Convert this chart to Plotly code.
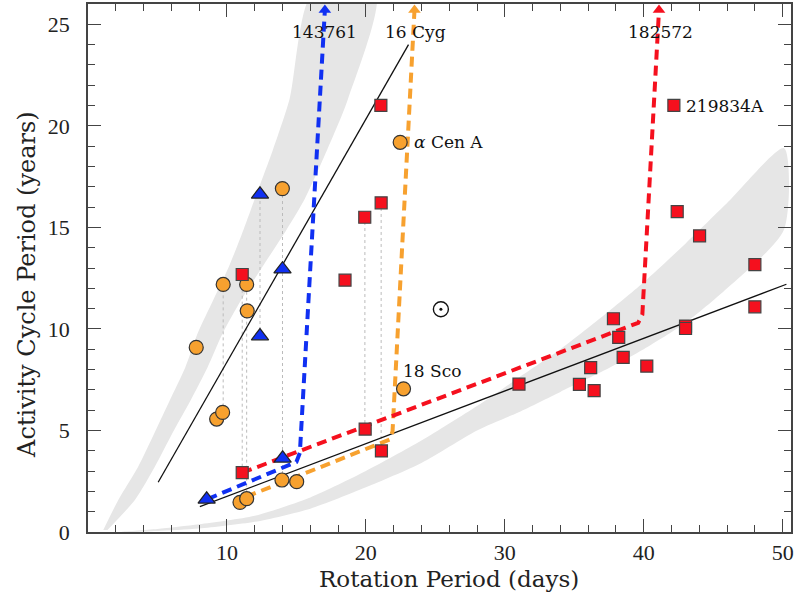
import plotly.graph_objects as go

# ---------------- data ----------------
circ_x = [7.79, 9.73, 11.42, 11.46, 13.99, 9.26, 9.69, 10.94, 11.42, 13.96, 15.02, 22.71, 22.47]
circ_y = [9.09, 12.19, 12.19, 10.89, 16.91, 5.56, 5.89, 1.46, 1.64, 2.56, 2.48, 7.05, 19.19]

tri_x = [14.0, 12.38, 14.01, 8.54, 12.38]
tri_y = [12.94, 9.65, 3.63, 1.61, 16.63]

sq_x = [11.10, 18.50, 11.10, 19.95, 21.12, 21.08, 21.10, 19.92, 42.17, 42.41, 44.02, 48.0, 48.0,
        43.01, 43.01, 37.82, 38.20, 38.52, 40.22, 36.18, 35.37, 36.43, 31.02]
sq_y = [12.68, 12.40, 2.92, 5.07, 3.99, 21.01, 16.21, 15.50, 21.01, 15.78, 14.58, 13.17, 11.09,
        10.14, 10.02, 10.50, 9.58, 8.60, 8.17, 8.09, 7.27, 6.96, 7.28]

sun_x, sun_y = 25.40, 10.97

# pairs of cycles of the same star (dotted connectors)
pair_x = [9.73, 11.10, 11.42, 12.38, 14.0, 19.93, 21.10]
pair_ylo = [5.89, 2.92, 1.64, 9.65, 2.56, 5.07, 3.99]
pair_yhi = [12.19, 12.68, 12.19, 16.63, 16.91, 15.50, 16.21]

# sequences (black lines)
inact_x = [5.05, 23.07]
inact_y = [2.45, 24.0]
act_x = [8.05, 50.27]
act_y = [1.25, 12.2]

# evolutionary tracks (dashed)
blue_x = [8.6, 15.0, 15.25, 17.05]
blue_y = [1.62, 3.45, 3.9, 25.7]
orange_x = [11.4, 21.7, 21.92, 23.5]
orange_y = [1.74, 4.55, 4.95, 25.7]
red_x = [11.1, 39.6, 39.9, 41.1]
red_y = [2.92, 10.3, 10.7, 25.7]

# grey bands
up_left_x = [1.1, 2.2, 3.6, 4.8, 5.9, 7.0, 7.9, 9.0, 10.1, 11.2, 12.0, 13.3, 14.5, 16.15]
up_left_y = [0.1, 1.6, 3.2, 4.9, 6.5, 8.1, 9.8, 11.4, 13.0, 14.9, 16.4, 18.8, 21.3, 26.5]
up_right_x = [20.7, 18.7, 17.2, 15.6, 14.3, 12.5, 11.0, 9.7, 8.6, 7.4, 6.1, 4.8, 3.4, 1.4]
up_right_y = [26.5, 21.3, 18.8, 16.4, 14.9, 13.0, 11.4, 9.8, 8.1, 6.5, 4.9, 3.2, 1.6, 0.1]

lo_top_x = [2.3, 5, 8, 12, 16, 20, 24, 28, 31, 34, 37, 40, 43, 46, 50.1]
lo_top_y = [0.0, 0.15, 0.38, 0.8, 1.7, 3.0, 4.5, 6.2, 7.6, 9.0, 10.6, 12.3, 14.2, 16.2, 18.9]
lo_bot_x = [50.1, 46, 43, 40, 37, 34, 31, 28, 24, 20, 16, 12, 8, 5, 2.3]
lo_bot_y = [14.9, 12.0, 10.3, 9.0, 7.9, 6.9, 5.9, 5.0, 3.4, 2.2, 1.15, 0.5, 0.17, 0.05, 0.0]

labels = ["143761", "16 Cyg", "182572", "219834A", "<i>α</i> Cen A", "18 Sco"]
label_x = [17.0, 23.6, 41.2, 42.9, 23.35, 22.5]
label_y = [24.6, 24.6, 24.6, 20.96, 19.2, 7.92]
label_anchor = ["center", "center", "center", "left", "left", "left"]

ORANGE = "#F7A12F"
BLUE = "#1030F2"
RED = "#F5101E"
GREY = "#E6E6E6"

fig = go.Figure()

fig.add_trace(go.Scatter(x=up_left_x + up_right_x, y=up_left_y + up_right_y, mode="lines",
                         fill="toself", fillcolor=GREY, line=dict(width=0, shape="spline", smoothing=0.7),
                         hoverinfo="skip"))
fig.add_trace(go.Scatter(x=lo_top_x + lo_bot_x, y=lo_top_y + lo_bot_y, mode="lines",
                         fill="toself", fillcolor=GREY, line=dict(width=0, shape="spline", smoothing=0.7),
                         hoverinfo="skip"))

for i in range(len(pair_x)):
    fig.add_trace(go.Scatter(x=[pair_x[i], pair_x[i]], y=[pair_ylo[i], pair_yhi[i]], mode="lines",
                             line=dict(color="#BBBBBB", width=1, dash="dot")))

fig.add_trace(go.Scatter(x=inact_x, y=inact_y, mode="lines", line=dict(color="#111", width=1.3)))
fig.add_trace(go.Scatter(x=act_x, y=act_y, mode="lines", line=dict(color="#111", width=1.3)))

for xs, ys, c in [(blue_x, blue_y, BLUE), (orange_x, orange_y, ORANGE), (red_x, red_y, RED)]:
    fig.add_trace(go.Scatter(x=xs, y=ys, mode="lines",
                             line=dict(color=c, width=4, dash="10px,6px")))
    fig.add_trace(go.Scatter(x=[xs[-1]], y=[ys[-1]], mode="markers", cliponaxis=False,
                             marker=dict(symbol="triangle-up", size=11, color=c, line=dict(width=0))))

fig.add_trace(go.Scatter(x=circ_x, y=circ_y, mode="markers",
                         marker=dict(symbol="circle", size=14, color=ORANGE,
                                     line=dict(color="#333", width=1.2))))
fig.add_trace(go.Scatter(x=tri_x, y=tri_y, mode="markers",
                         marker=dict(symbol="triangle-up", size=15, color=BLUE,
                                     line=dict(color="#222", width=1.2))))
fig.add_trace(go.Scatter(x=sq_x, y=sq_y, mode="markers",
                         marker=dict(symbol="square", size=12, color=RED,
                                     line=dict(color="#444", width=1.2))))
fig.add_trace(go.Scatter(x=[sun_x], y=[sun_y], mode="markers",
                         marker=dict(symbol="circle-open", size=15, color="#111",
                                     line=dict(width=1.4))))
fig.add_trace(go.Scatter(x=[sun_x], y=[sun_y], mode="markers",
                         marker=dict(symbol="circle", size=3, color="#111")))

for t, lx, ly, a in zip(labels, label_x, label_y, label_anchor):
    fig.add_annotation(x=lx, y=ly, text=t, showarrow=False, xanchor=a, yanchor="middle",
                       font=dict(family="DejaVu Serif", size=17, color="#111"))

# axis titles
fig.add_annotation(xref="paper", yref="paper", x=0.5135, y=-0.0890, text="Rotation Period (days)",
                   showarrow=False, xanchor="center", yanchor="middle",
                   font=dict(family="DejaVu Serif", size=23, color="#222"))
fig.add_annotation(xref="paper", yref="paper", x=-0.0868, y=0.468, text="Activity Cycle Period (years)",
                   showarrow=False, xanchor="center", yanchor="middle", textangle=-90,
                   font=dict(family="DejaVu Serif", size=24, color="#222"))

axis_common = dict(showgrid=False, zeroline=False, showline=True, linecolor="#444", linewidth=1.5,
                   mirror="allticks", ticks="inside", ticklen=13, tickwidth=1.2, tickcolor="#444",
                   automargin=False,
                   tickfont=dict(family="Liberation Serif", size=22, color="#222"))

fig.update_layout(
    width=796, height=594,
    margin=dict(l=88, r=5, t=4, b=62),
    plot_bgcolor="white", paper_bgcolor="white",
    showlegend=False,
    xaxis=dict(range=[0, 50.6], tickvals=[10, 20, 30, 40, 50],
               minor=dict(dtick=2, tick0=0, ticks="inside", ticklen=7, tickcolor="#444", tickwidth=1),
               ticklabelstandoff=0,
               **axis_common),
    yaxis=dict(range=[0, 26], tickvals=[0, 5, 10, 15, 20, 25],
               minor=dict(dtick=1, tick0=0, ticks="inside", ticklen=7, tickcolor="#444", tickwidth=1),
               ticklabelstandoff=12,
               **axis_common),
)

fig.write_html("out.html", config={"displayModeBar": False},
               post_script="document.body.style.margin='0';")
